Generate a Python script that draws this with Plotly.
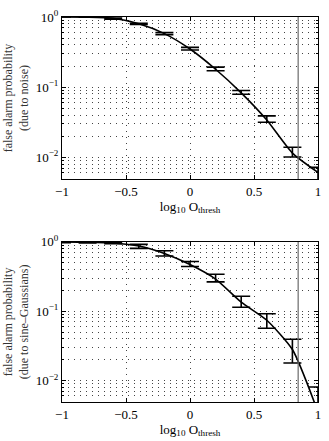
import plotly.graph_objects as go
from plotly.subplots import make_subplots

# threshold values (log10 O_thresh) where the error bars sit
x_bars = [-1.0, -0.8, -0.6, -0.4, -0.2, 0.0, 0.2, 0.4, 0.6, 0.8, 1.0]

# top panel: false alarm probability due to noise
noise_curve = [1.0, 0.995, 0.96, 0.80, 0.58, 0.35, 0.18, 0.083, 0.034, 0.0115, 0.0061]
noise_upper = [1.0, 1.0, 0.97, 0.81, 0.60, 0.369, 0.193, 0.0897, 0.039, 0.0139, 0.0072]
noise_lower = [1.0, 0.99, 0.93, 0.78, 0.56, 0.338, 0.171, 0.0794, 0.0316, 0.0101, 0.004]

# bottom panel: false alarm probability due to sine-Gaussians
sg_curve = [1.0, 0.99, 0.96, 0.87, 0.68, 0.47, 0.29, 0.135, 0.074, 0.028, 0.0035]
sg_upper = [1.0, 1.0, 0.99, 0.918, 0.743, 0.52, 0.341, 0.164, 0.0918, 0.0394, 0.00805]
sg_lower = [0.97, 0.96, 0.94, 0.805, 0.625, 0.44, 0.265, 0.114, 0.0566, 0.0179, 0.003]

# vertical threshold marker
thresh_x = 0.845

x_ticks = [-1, -0.5, 0, 0.5, 1]
x_ticktext = ['\u22121', '\u22120.5', '0', '0.5', '1']
y_ticks = [1, 0.1, 0.01]
y_ticktext = ['10<sup>0</sup>', '10<sup>\u22121</sup>', '10<sup>\u22122</sup>']

FONT = 'Liberation Serif, Times New Roman, serif'

fig = make_subplots(rows=2, cols=1, vertical_spacing=0.16)


def add_panel(row, curve, upper, lower):
    # error bars, centred between the two caps
    centre = [(u * l) ** 0.5 for u, l in zip(upper, lower)]
    fig.add_trace(go.Scatter(
        x=x_bars, y=centre, mode='markers',
        marker=dict(size=1, color='black', opacity=0),
        error_y=dict(type='data', symmetric=False,
                     array=[u - c for u, c in zip(upper, centre)],
                     arrayminus=[c - l for l, c in zip(lower, centre)],
                     color='black', thickness=1.6, width=9),
        showlegend=False, hoverinfo='skip'), row=row, col=1)
    # smooth curve
    fig.add_trace(go.Scatter(
        x=x_bars, y=curve, mode='lines',
        line=dict(color='black', width=1.6, shape='spline', smoothing=0.6),
        showlegend=False), row=row, col=1)
    # threshold line
    fig.add_trace(go.Scatter(
        x=[thresh_x, thresh_x], y=[1e-3, 1.5], mode='lines',
        line=dict(color='#6a6a6a', width=1.2),
        showlegend=False, hoverinfo='skip'), row=row, col=1)


add_panel(1, noise_curve, noise_upper, noise_lower)
add_panel(2, sg_curve, sg_upper, sg_lower)

minor_vals = [m * 10 ** e for e in (-3, -2, -1) for m in range(2, 10)]

axis_common = dict(showline=True, linecolor='black', linewidth=1, mirror='allticks',
                   ticks='inside', ticklen=4, tickcolor='black',
                   tickfont=dict(family=FONT, size=13, color='black'),
                   showgrid=True, gridcolor='#444444', griddash='1px,5px', gridwidth=1,
                   zeroline=False)

for r, ytitle in [(1, 'false alarm probability<br>(due to noise)'),
                  (2, 'false alarm probability<br>(due to sine\u2013Gaussians)')]:
    fig.update_xaxes(range=[-1, 1], tickvals=x_ticks, ticktext=x_ticktext,
                     title=dict(text='log<sub>10</sub> O<sub>thresh</sub>',
                                font=dict(family=FONT, size=13, color='black'), standoff=2),
                     **axis_common, row=r, col=1)
    fig.update_yaxes(type='log', range=[-2.31, 0], tickvals=y_ticks, ticktext=y_ticktext,
                     title=dict(text=ytitle, font=dict(family=FONT, size=12, color='#333333'),
                                standoff=4),
                     minor=dict(tickvals=minor_vals, ticks='inside', ticklen=2,
                                tickcolor='black', showgrid=True, gridcolor='#444444',
                                griddash='1px,5px', gridwidth=1),
                     **axis_common, row=r, col=1)

fig.update_layout(
    width=329, height=441,
    margin=dict(l=58, r=8, t=16, b=38),
    plot_bgcolor='white', paper_bgcolor='white',
    font=dict(family=FONT, size=12, color='black'),
    xaxis=dict(domain=[0, 1]), yaxis=dict(domain=[0.579, 1]),
    xaxis2=dict(domain=[0, 1]), yaxis2=dict(domain=[0, 0.416]),
)

# drop the default page margin so the 329x441 figure fills the window
fig.write_html("out.html", config={'displayModeBar': False},
               post_script="document.body.style.margin='0';")
